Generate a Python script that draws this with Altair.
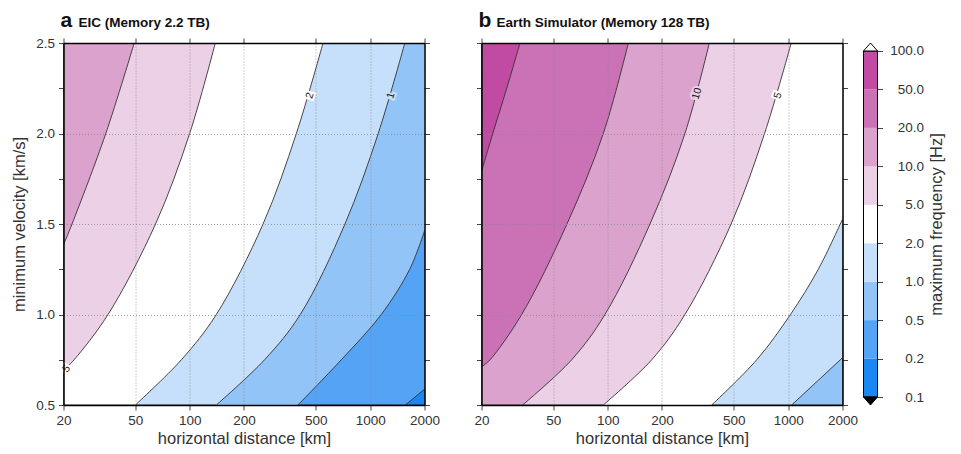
import altair as alt
import pandas as pd

FONT = "Liberation Sans"

# ---------------- axes / levels ----------------
x_domain = [20, 2000]
y_domain = [0.5, 2.5]
x_tick_values = [20, 50, 100, 200, 500, 1000, 2000]
y_tick_values = [0.5, 0.75, 1.0, 1.25, 1.5, 1.75, 2.0, 2.25, 2.5]

level_labels = ["0.1", "0.2", "0.5", "1.0", "2.0", "5.0", "10.0", "20.0", "50.0", "100.0"]
band_colors = ["#1b87f4", "#55a3f5", "#92c4f7", "#c6e0fb", "#ffffff",
               "#ebd0e6", "#dca2ce", "#cb72b7", "#c14ba2"]

# ---------------- panel a : iso-frequency lines (velocity km/s, distance km) ----------------
a_c02_v = [0.5, 0.587]
a_c02_d = [1566, 2000]
a_c05_v = [0.5, 0.75, 1.0, 1.25, 1.462]
a_c05_d = [398, 692, 1152, 1656, 2000]
a_c1_v = [0.5, 0.75, 1.0, 1.5, 2.0, 2.5]
a_c1_d = [140.5, 260, 410, 725, 1108, 1556]
a_c2_v = [0.5, 0.75, 1.0, 1.5, 2.0, 2.5]
a_c2_d = [50, 90, 140.5, 255, 390, 548]
a_c5_v = [0.69, 0.75, 1.0, 1.5, 2.0, 2.5]
a_c5_d = [20, 22.9, 35.3, 64.7, 100, 138.7]
a_c10_v = [1.385, 1.5, 2.0, 2.5]
a_c10_d = [20, 22.3, 34.3, 49.3]

a_lab_text = ["5", "2", "1"]
a_lab_d = [20.8, 464, 1304]
a_lab_v = [0.70, 2.21, 2.21]

# ---------------- panel b ----------------
b_c1_v = [0.5, 0.761]
b_c1_d = [1046, 2000]
b_c2_v = [0.5, 0.75, 1.0, 1.25, 1.527]
b_c2_d = [377, 670, 1030, 1469, 2000]
b_c5_v = [0.5, 0.75, 1.0, 1.5, 2.0, 2.5]
b_c5_d = [94.6, 175.4, 268, 483, 740, 1040]
b_c10_v = [0.5, 0.75, 1.0, 1.5, 2.0, 2.5]
b_c10_d = [33.8, 63.2, 96.6, 171.6, 268, 365.8]
b_c20_v = [0.71, 0.75, 1.0, 1.5, 2.0, 2.5]
b_c20_d = [20, 22.3, 33.4, 59.5, 94.6, 130.2]
b_c50_v = [1.79, 2.0, 2.25, 2.5]
b_c50_d = [20, 23.1, 27.6, 32.7]

b_lab_text = ["10", "5"]
b_lab_d = [312.6, 879]
b_lab_v = [2.22, 2.21]


def make_panel(left_fills, right_fills, bg_band, lab, lab_styles, letter, heading, left_labels):
    xs = alt.Scale(type="log", domain=x_domain, nice=False)
    ys = alt.Scale(domain=y_domain, nice=False, zero=False)
    frame_df = pd.DataFrame({"d0": [x_domain[0]], "d1": [x_domain[1]],
                             "v0": [y_domain[0]], "v1": [y_domain[1]]})
    common = dict(zindex=1, domainColor="black", domainWidth=1.5, tickColor="#444",
                  tickSize=5, tickWidth=1, labelFont=FONT, titleFont=FONT)
    bottom_axis = alt.Axis(orient="bottom", values=x_tick_values, format="d",
                           labelFontSize=13.5, labelColor="#333", labelPadding=3,
                           labelFlush=False, labelOverlap=False,
                           title="horizontal distance [km]", titleFontSize=16.5,
                           titleFontWeight="normal", titleColor="#333", titlePadding=4,
                           grid=True, gridColor="#8a8a8a", gridDash=[1, 2], gridWidth=0.8,
                           **common)
    left_kw = dict(orient="left", values=y_tick_values, grid=True, gridColor="#8a8a8a",
                   gridDash=[1, 2], gridWidth=0.8,
                   gridOpacity={"condition": {"test": "datum.value % 0.5 != 0", "value": 0}, "value": 1},
                   **common)
    if left_labels:
        left_axis = alt.Axis(labelExpr="datum.value % 0.5 == 0 ? format(datum.value, '.1f') : ''",
                             labelFontSize=13.5, labelColor="#333", labelPadding=4,
                             title="minimum velocity [km/s]", titleFontSize=16.5,
                             titleFontWeight="normal", titleColor="#333", titlePadding=8,
                             **left_kw)
    else:
        left_axis = alt.Axis(labels=False, title=None, **left_kw)
    top_axis = alt.Axis(orient="top", values=x_tick_values, labels=False, grid=False,
                        title=heading, titleFontSize=13.5, titleFontWeight="bold",
                        titleColor="#111", titleX=14.5, titleY=-17, titleAlign="left",
                        titleAnchor="start", titleBaseline="alphabetic", titleAngle=0,
                        **common)
    right_axis = alt.Axis(orient="right", values=y_tick_values, labels=False, grid=False,
                          title=None, **common)

    bg = alt.Chart(frame_df).mark_rect(fill=band_colors[bg_band]).encode(
        x=alt.X("d0:Q", scale=xs, axis=bottom_axis), x2="d1:Q",
        y=alt.Y("v0:Q", scale=ys, axis=left_axis), y2="v1:Q")

    layers = [bg]

    def area_layer(v, d, band, edge):
        df = pd.DataFrame({"v": v, "d": d, "edge": edge})
        return alt.Chart(df).mark_area(
            interpolate="catmull-rom", orient="horizontal", fill=band_colors[band],
            stroke="#333333", strokeWidth=0.9, clip=True).encode(
            x=alt.X("d:Q", scale=xs, axis=None), x2="edge:Q",
            y=alt.Y("v:Q", scale=ys, axis=None))

    # regions left of lines that reach the top edge (right to left)
    for v, d, band in left_fills:
        layers.append(area_layer(v, d, band, x_domain[0]))
    # regions right of lines that reach the right edge (left to right)
    for v, d, band in right_fills:
        layers.append(area_layer(v, d, band, x_domain[1]))

    t, dd, vv = lab
    for i, (angle, halo) in enumerate(lab_styles):
        df = pd.DataFrame({"t": [t[i]], "d": [dd[i]], "v": [vv[i]]})
        enc = dict(x=alt.X("d:Q", scale=xs, axis=None), y=alt.Y("v:Q", scale=ys, axis=None),
                   text="t:N")
        layers.append(alt.Chart(df).mark_text(
            angle=angle, fontSize=10.5, font=FONT, color=band_colors[halo],
            stroke=band_colors[halo], strokeWidth=4).encode(**enc))
        layers.append(alt.Chart(df).mark_text(
            angle=angle, fontSize=10.5, font=FONT, color="#222").encode(**enc))

    frame = alt.Chart(frame_df).mark_rect(fillOpacity=0, strokeOpacity=0).encode(
        x=alt.X("d0:Q", scale=xs, axis=top_axis), x2="d1:Q",
        y=alt.Y("v0:Q", scale=ys, axis=right_axis), y2="v1:Q")
    layers.append(frame)

    return alt.layer(*layers).resolve_axis(x="independent", y="independent").properties(
        width=361, height=362,
        title=alt.TitleParams(letter, anchor="start", frame="group", fontSize=21,
                              fontWeight="bold", color="#111", font=FONT, dx=-3, dy=20))


panel_a = make_panel(
    [(a_c1_v, a_c1_d, 3), (a_c2_v, a_c2_d, 4), (a_c5_v, a_c5_d, 5), (a_c10_v, a_c10_d, 6)],
    [(a_c05_v, a_c05_d, 1), (a_c02_v, a_c02_d, 0)],
    2, (a_lab_text, a_lab_d, a_lab_v), [(310, 4), (287, 4), (286, 3)],
    "a", "EIC (Memory 2.2 TB)", True)

panel_b = make_panel(
    [(b_c5_v, b_c5_d, 5), (b_c10_v, b_c10_d, 6), (b_c20_v, b_c20_d, 7), (b_c50_v, b_c50_d, 8)],
    [(b_c2_v, b_c2_d, 3), (b_c1_v, b_c1_d, 2)],
    4, (b_lab_text, b_lab_d, b_lab_v), [(286, 5), (288, 4)],
    "b", "Earth Simulator (Memory 128 TB)", False)

# ---------------- colour bar ----------------
n_bands = len(band_colors)
tip = 0.208
cb_y = alt.Scale(domain=[-tip, n_bands + tip], nice=False, zero=False)
cb_x = alt.Scale(domain=[0, 1], nice=False, zero=False)
label_js = "[" + ",".join("'%s'" % s for s in level_labels) + "][datum.value]"
cb_axis = alt.Axis(orient="right", values=list(range(len(level_labels))), labelExpr=label_js,
                   labelAlign="right", labelPadding=41, labelFontSize=13.5, labelColor="#333",
                   labelFont=FONT, tickSize=5, tickColor="#444", domain=False, grid=False,
                   title="maximum frequency [Hz]", titleAngle=270, titleFontSize=16.5,
                   titleFontWeight="normal", titleColor="#333", titleFont=FONT, titlePadding=21)

cb_df = pd.DataFrame({"lo": list(range(n_bands)), "hi": list(range(1, n_bands + 1)),
                      "color": band_colors, "c0": 0, "c1": 1})
cb_rects = alt.Chart(cb_df).mark_rect().encode(
    x=alt.X("c0:Q", scale=cb_x, axis=None), x2="c1:Q",
    y=alt.Y("lo:Q", scale=cb_y, axis=cb_axis), y2="hi:Q",
    fill=alt.Fill("color:N", scale=None))
cb_outline = alt.Chart(pd.DataFrame({"lo": [0], "hi": [n_bands], "c0": [0], "c1": [1]})).mark_rect(
    fillOpacity=0, stroke="black", strokeWidth=1).encode(
    x=alt.X("c0:Q", scale=cb_x, axis=None), x2="c1:Q",
    y=alt.Y("lo:Q", scale=cb_y, axis=None), y2="hi:Q")
tri_top = alt.Chart(pd.DataFrame({"x": [0, 0.5, 1], "y": [n_bands, n_bands + tip, n_bands],
                                  "b": [n_bands] * 3})).mark_area(
    fill="white", stroke="black", strokeWidth=1, orient="vertical").encode(
    x=alt.X("x:Q", scale=cb_x, axis=None), y=alt.Y("y:Q", scale=cb_y, axis=None), y2="b:Q")
tri_bot = alt.Chart(pd.DataFrame({"x": [0, 0.5, 1], "y": [0, -tip, 0], "b": [0, 0, 0]})).mark_area(
    fill="black", stroke="black", strokeWidth=1, orient="vertical").encode(
    x=alt.X("x:Q", scale=cb_x, axis=None), y=alt.Y("y:Q", scale=cb_y, axis=None), y2="b:Q")
colorbar = alt.layer(cb_rects, cb_outline, tri_top, tri_bot).resolve_axis(
    x="independent", y="independent").properties(width=14, height=362)

chart = alt.hconcat(alt.hconcat(panel_a, panel_b, spacing=33), colorbar, spacing=3).properties(
    padding={"left": 11.5, "top": 10, "right": 5, "bottom": 5}
).configure(font=FONT).configure_view(strokeWidth=0)

chart.save("out.html", embed_options={"renderer": "svg", "actions": False})
